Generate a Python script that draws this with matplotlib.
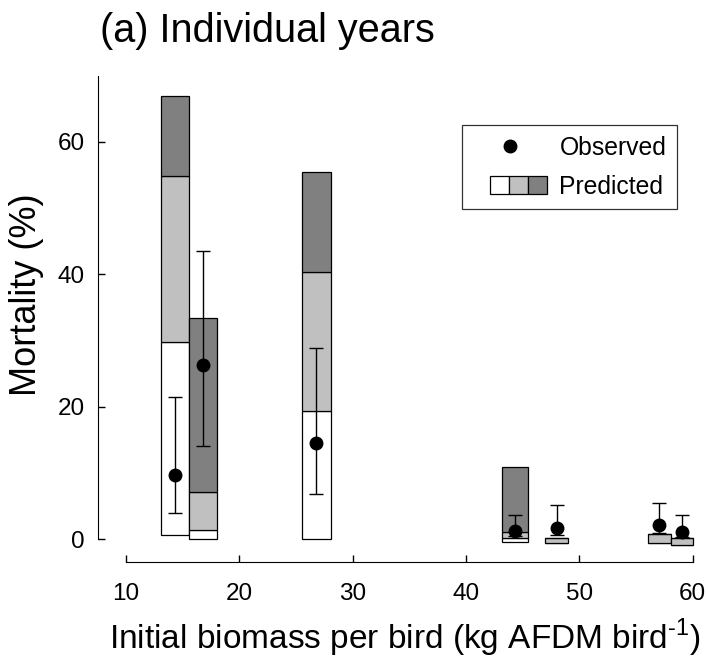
#!/usr/bin/env python3

import matplotlib
matplotlib.use('Agg')
import matplotlib.pyplot as plt
from matplotlib.lines import Line2D
from matplotlib.patches import Rectangle
import numpy as np

# biomass per bird (x) for each year
biomass = [14.35, 16.8, 26.8, 44.3, 48.0, 57.07, 59.07]

# observed mortality (%) with confidence limits
obs = [9.7, 26.3, 14.55, 1.25, 1.6, 2.1, 1.0]
obs_lo = [4.0, 14.05, 6.75, 0.45, 0.6, 0.9, 0.3]
obs_hi = [21.5, 43.5, 28.9, 3.6, 5.1, 5.4, 3.6]

# predicted mortality ranges (min, white top, light top, dark top)
pred_min = [0.6, -0.05, 0.0, -0.5, -0.65, -0.65, -0.9]
pred_q1 = [29.8, 1.36, 19.3, 0.1, -0.65, -0.65, -0.9]
pred_q2 = [54.9, 7.06, 40.4, 1.1, 0.1, 0.7, 0.1]
pred_max = [66.95, 33.35, 55.5, 10.9, 0.1, 0.7, 0.1]

box_w = [2.45, 2.45, 2.5, 2.3, 2.1, 2.0, 2.0]

xticks = [10, 20, 30, 40, 50, 60]
yticks = [0, 20, 40, 60]

shades = ['#ffffff', '#c0c0c0', '#808080']

plt.rcParams['font.family'] = ['Liberation Sans', 'DejaVu Sans']
plt.rcParams['mathtext.fontset'] = 'custom'
plt.rcParams['mathtext.rm'] = 'Liberation Sans'


class ShadesHandler:
	# three small boxes, pushed to the right side of the handle area
	def legend_artist(self, legend, orig_handle, fontsize, handlebox):
		x0, y0 = -handlebox.xdescent, -handlebox.ydescent
		w, h = handlebox.width, handlebox.height
		bw = 0.76 * fontsize
		start = x0 + w - 3*bw
		for i, c in enumerate(shades):
			r = Rectangle((start + i*bw, y0), bw, h, facecolor=c,
						  edgecolor='black', linewidth=0.9,
						  transform=handlebox.get_transform())
			handlebox.add_artist(r)
		return r


def main():
	fig = plt.figure(figsize=(7.08, 6.64), dpi=100)
	ax = fig.add_axes([98.3/708, 102.3/664, (701.6-98.3)/708, (561.7-75.8)/664])

	x = np.array(biomass)
	lo = np.array(pred_min)
	q1 = np.array(pred_q1)
	q2 = np.array(pred_q2)
	hi = np.array(pred_max)

	kw = dict(width=box_w, edgecolor='black', linewidth=0.9, zorder=2)
	ax.bar(x, q1-lo, bottom=lo, color=shades[0], **kw)
	ax.bar(x, q2-q1, bottom=q1, color=shades[1], **kw)
	ax.bar(x, hi-q2, bottom=q2, color=shades[2], **kw)

	o = np.array(obs)
	yerr = [o-np.array(obs_lo), np.array(obs_hi)-o]
	ax.errorbar(x, o, yerr=yerr, fmt='o', color='black', ms=9, elinewidth=1,
				capsize=4.7, capthick=1, zorder=3)

	ax.set_xlim(7.55, 60.8)
	ax.set_ylim(-3.43, 70)
	ax.spines['top'].set_visible(False)
	ax.spines['right'].set_visible(False)
	ax.spines['left'].set_bounds(0, 70)
	ax.spines['bottom'].set_bounds(10, 60)
	ax.set_xticks(xticks)
	ax.set_yticks(yticks)
	ax.tick_params(axis='both', direction='in', length=5, width=1, labelsize=17.5)
	ax.tick_params(axis='x', pad=15.5)
	ax.tick_params(axis='y', pad=9.6)

	ax.set_xlabel('Initial biomass per bird (kg AFDM bird$^{\\text{-1}}$)', fontsize=24)
	ax.xaxis.set_label_coords(405/708, 1-617/664, transform=fig.transFigure)
	ax.set_ylabel('Mortality (%)', fontsize=26)
	ax.yaxis.set_label_coords(44/708, 1-295/664, transform=fig.transFigure)

	fig.text(267/708, 1-31/664, '(a) Individual years', fontsize=28.5,
			 ha='center', va='center')

	obs_h = Line2D([], [], marker='o', color='black', ls='none', ms=9)
	pred_h = Rectangle((0, 0), 1, 1)
	leg = ax.legend([obs_h, pred_h], ['Observed', 'Predicted'],
					handler_map={Rectangle: ShadesHandler()},
					loc='upper left', bbox_to_anchor=(461.7/708, 1-125/664),
					bbox_transform=fig.transFigure, borderaxespad=0,
					prop={'size': 17.8}, frameon=True, fancybox=False,
					handlelength=3.0, handleheight=0.8, handletextpad=0.52,
					labelspacing=0.6, borderpad=0.435)
	leg.get_frame().set_edgecolor('black')
	leg.get_frame().set_linewidth(0.9)

	plt.savefig('out.png', dpi=100)

if __name__ == '__main__':
	main()
